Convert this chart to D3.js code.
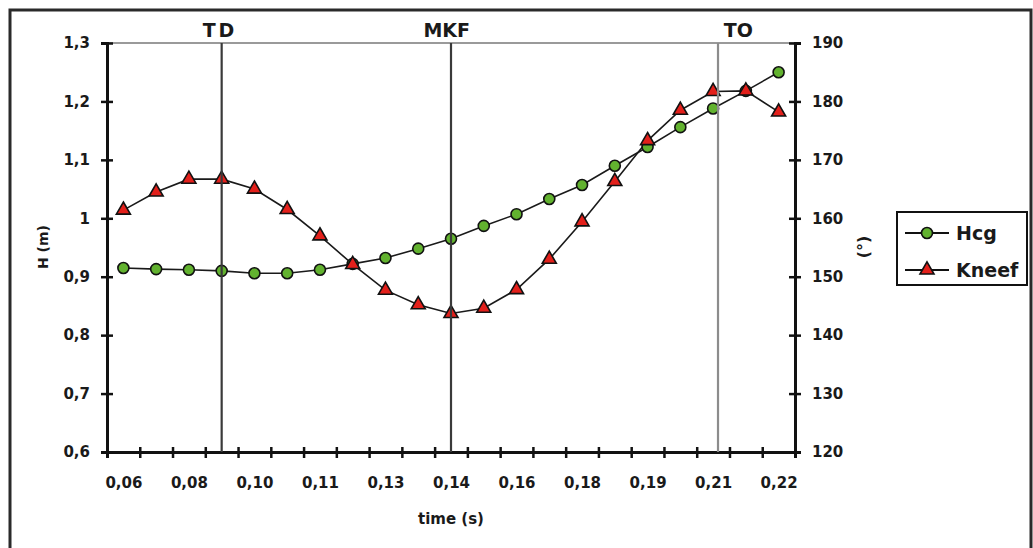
<!DOCTYPE html>
<html>
<head>
<meta charset="utf-8">
<script src="https://cdn.jsdelivr.net/npm/d3@7"></script>
<style>
  body { margin: 0; background: #fff; }
  text { font-family: "DejaVu Sans", Arial, sans-serif; font-weight: bold; fill: #1a1a1a; }
</style>
</head>
<body>
<div id="chart"></div>
<script>
// Time categories (s), only every other one is labelled on the axis
var timeCats = ["0,060", "0,068", "0,076", "0,084", "0,092", "0,100", "0,108",
  "0,116", "0,124", "0,132", "0,140", "0,148", "0,156", "0,164", "0,172",
  "0,180", "0,188", "0,196", "0,204", "0,212", "0,220"];
var tickLabels = ["0,06", "0,08", "0,10", "0,11", "0,13", "0,14", "0,16",
  "0,18", "0,19", "0,21", "0,22"];

// Height of centre of gravity (m), left axis
var hcgValues = [0.915, 0.913, 0.912, 0.910, 0.906, 0.906, 0.912, 0.922, 0.932,
  0.948, 0.965, 0.987, 1.007, 1.033, 1.057, 1.090, 1.122, 1.156, 1.188, 1.218, 1.250];

// Knee flexion angle (deg), right axis
var kneeValues = [161.4, 164.5, 166.7, 166.7, 165.0, 161.5, 157.0, 152.1, 147.7,
  145.2, 143.7, 144.6, 147.8, 153.0, 159.4, 166.3, 173.3, 178.5, 181.7, 181.8, 178.2];

// Gait events (position given as category index)
var eventNames = ["TD", "MKF", "TO"];
var eventAt = [3, 10, 18.15];
var eventLabelAt = [2.95, 9.87, 18.77];

var leftTicks = [0.6, 0.7, 0.8, 0.9, 1, 1.1, 1.2, 1.3];
var rightTicks = [120, 130, 140, 150, 160, 170, 180, 190];

var svgWidth = 1033;
var svgHeight = 548;

var margin = { top: 43, left: 107, right: 238, bottom: 96 };
var width = svgWidth - margin.left - margin.right;
var height = svgHeight - margin.top - margin.bottom;

var svg = d3.select("#chart")
  .append("svg")
  .attr("width", svgWidth)
  .attr("height", svgHeight);

// outer frame
svg.append("rect")
  .attr("x", 10)
  .attr("y", 10)
  .attr("width", 1021)
  .attr("height", 560)
  .attr("fill", "none")
  .attr("stroke", "#2a2a2a")
  .attr("stroke-width", 3);

var chartGroup = svg.append("g")
  .attr("transform", `translate(${margin.left}, ${margin.top})`);

// scales
var xScale = d3.scaleLinear()
  .domain([-0.5, timeCats.length - 0.5])
  .range([0, width]);

var yLeft = d3.scaleLinear()
  .domain([0.6, 1.3])
  .range([height, 0]);

var yRight = d3.scaleLinear()
  .domain([120, 190])
  .range([height, 0]);

// top border of the plot area
chartGroup.append("line")
  .attr("x1", 0)
  .attr("x2", width)
  .attr("y1", 0)
  .attr("y2", 0)
  .attr("stroke", "#9a9a9a")
  .attr("stroke-width", 2);

// x axis: tick marks on the category boundaries
var xTickAxis = d3.axisBottom(xScale)
  .tickValues(d3.range(-0.5, timeCats.length, 1))
  .tickFormat("");

var xAxis = chartGroup.append("g")
  .attr("transform", `translate(0, ${height})`)
  .call(xTickAxis);

// labels on every other category
var xLabelAxis = d3.axisBottom(xScale)
  .tickValues(d3.range(0, timeCats.length, 2))
  .tickFormat((d, i) => tickLabels[i])
  .tickSize(0)
  .tickPadding(25);

var xLabels = chartGroup.append("g")
  .attr("transform", `translate(0, ${height})`)
  .call(xLabelAxis);

var leftAxis = d3.axisLeft(yLeft)
  .tickValues(leftTicks)
  .tickFormat(d => d3.format(".1f")(d).replace(".0", "").replace(".", ","))
  .tickPadding(11);

var yAxisLeft = chartGroup.append("g")
  .call(leftAxis);

var rightAxis = d3.axisRight(yRight)
  .tickValues(rightTicks)
  .tickPadding(11);

var yAxisRight = chartGroup.append("g")
  .attr("transform", `translate(${width}, 0)`)
  .call(rightAxis);

// axis styling: heavy black lines, ticks crossing the axis
[xAxis, xLabels, yAxisLeft, yAxisRight].forEach(function(ax) {
  ax.select(".domain")
    .attr("stroke", "#111")
    .attr("stroke-width", 3);
  ax.selectAll("text")
    .attr("font-size", "15px")
    .attr("font-family", "DejaVu Sans")
    .attr("font-weight", "bold")
    .attr("fill", "#1a1a1a");
});
xLabels.select(".domain").remove();
xAxis.selectAll(".tick line")
  .attr("y1", -5).attr("y2", 6)
  .attr("stroke", "#111").attr("stroke-width", 2.5);
yAxisLeft.selectAll(".tick line")
  .attr("x1", -6).attr("x2", 6)
  .attr("stroke", "#111").attr("stroke-width", 2.5);
yAxisRight.selectAll(".tick line")
  .attr("x1", -6).attr("x2", 6)
  .attr("stroke", "#111").attr("stroke-width", 2.5);

// lines
var hcgLine = d3.line()
  .x((d, i) => xScale(i))
  .y(d => yLeft(d));

var kneeLine = d3.line()
  .x((d, i) => xScale(i))
  .y(d => yRight(d));

chartGroup.append("path")
  .datum(hcgValues)
  .attr("d", hcgLine)
  .attr("fill", "none")
  .attr("stroke", "#1a1a1a")
  .attr("stroke-width", 1.6);

chartGroup.append("path")
  .datum(kneeValues)
  .attr("d", kneeLine)
  .attr("fill", "none")
  .attr("stroke", "#1a1a1a")
  .attr("stroke-width", 1.6);

var circleSym = d3.symbol().type(d3.symbolCircle).size(95);
var triSym = d3.symbol().type(d3.symbolTriangle).size(85);

// markers
chartGroup.selectAll(".hcgPoint")
  .data(hcgValues)
  .enter()
  .append("path")
  .attr("class", "hcgPoint")
  .attr("d", circleSym)
  .attr("transform", (d, i) => `translate(${xScale(i)}, ${yLeft(d)})`)
  .attr("fill", "#62b22f")
  .attr("stroke", "#111")
  .attr("stroke-width", 1.6);

chartGroup.selectAll(".kneePoint")
  .data(kneeValues)
  .enter()
  .append("path")
  .attr("class", "kneePoint")
  .attr("d", triSym)
  .attr("transform", (d, i) => `translate(${xScale(i)}, ${yRight(d)})`)
  .attr("fill", "#e3201b")
  .attr("stroke", "#111")
  .attr("stroke-width", 1.6);

// gait event lines and labels
chartGroup.selectAll(".eventLine")
  .data(eventAt)
  .enter()
  .append("line")
  .attr("class", "eventLine")
  .attr("x1", d => xScale(d))
  .attr("x2", d => xScale(d))
  .attr("y1", 0)
  .attr("y2", height)
  .attr("stroke", (d, i) => i === 2 ? "#8c8c8c" : "#3a3a3a")
  .attr("stroke-width", 2.2);

chartGroup.selectAll(".eventText")
  .data(eventNames)
  .enter()
  .append("text")
  .attr("class", "eventText")
  .attr("x", (d, i) => xScale(eventLabelAt[i]))
  .attr("y", -6)
  .attr("text-anchor", "middle")
  .attr("font-size", "19px")
  .attr("letter-spacing", (d, i) => i === 0 ? "3px" : "0px")
  .text(d => d);

// axis titles
svg.append("text")
  .attr("transform", "translate(48, 247) rotate(-90)")
  .attr("text-anchor", "middle")
  .attr("font-size", "14px")
  .text("H (m)");

svg.append("text")
  .attr("transform", "translate(869, 247) rotate(-90)")
  .attr("text-anchor", "middle")
  .attr("font-size", "16px")
  .text("(°)");

svg.append("text")
  .attr("x", 451)
  .attr("y", 524)
  .attr("text-anchor", "middle")
  .attr("font-size", "15px")
  .text("time (s)");

// legend
var legend = svg.append("g")
  .attr("transform", "translate(897, 212)");

legend.append("rect")
  .attr("width", 130)
  .attr("height", 73)
  .attr("fill", "#fff")
  .attr("stroke", "#111")
  .attr("stroke-width", 2);

var legendItems = [
  { name: "Hcg", sym: circleSym, color: "#62b22f", y: 21 },
  { name: "Kneef", sym: triSym, color: "#e3201b", y: 58 }
];

legendItems.forEach(function(item) {
  legend.append("line")
    .attr("x1", 8)
    .attr("x2", 52)
    .attr("y1", item.y)
    .attr("y2", item.y)
    .attr("stroke", "#111")
    .attr("stroke-width", 1.8);
  legend.append("path")
    .attr("d", item.sym)
    .attr("transform", `translate(30, ${item.y})`)
    .attr("fill", item.color)
    .attr("stroke", "#111")
    .attr("stroke-width", 1.6);
  legend.append("text")
    .attr("x", 59)
    .attr("y", item.y + 7)
    .attr("font-size", "19px")
    .text(item.name);
});
</script>
</body>
</html>
